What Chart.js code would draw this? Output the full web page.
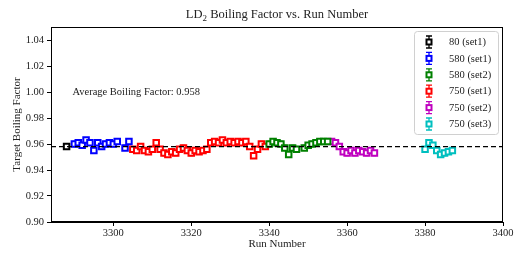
<!DOCTYPE html>
<html>
<head>
<meta charset="utf-8">
<script src="https://cdn.jsdelivr.net/npm/chart.js@4.4.1/dist/chart.umd.min.js"></script>
<style>
  html, body { margin: 0; padding: 0; background: #fff; }
  #wrap { width: 528px; height: 264px; }
</style>
</head>
<body>
<div id="wrap"><canvas id="bf"></canvas></div>
<script>
// Datos
const runs80a = [3288];
const bf80a = [0.958];

const runs580a = [3290, 3291, 3292, 3293, 3294, 3295, 3296, 3297, 3298, 3299, 3300, 3301, 3303, 3304];
const bf580a = [0.960, 0.961, 0.959, 0.963, 0.961, 0.955, 0.961, 0.958, 0.960, 0.961, 0.960, 0.962, 0.957, 0.962];

const runs580b = [3340, 3341, 3342, 3343, 3344, 3345, 3346, 3347, 3349, 3350, 3351, 3352, 3353, 3354, 3355];
const bf580b = [0.960, 0.962, 0.961, 0.960, 0.957, 0.952, 0.957, 0.956, 0.957, 0.959, 0.960, 0.961, 0.962, 0.962, 0.962];

const runs750a = [3305, 3306, 3307, 3308, 3309, 3310, 3311, 3312, 3313, 3314, 3315, 3316, 3317, 3318, 3319,
  3320, 3321, 3322, 3323, 3324, 3325, 3326, 3327, 3328, 3329, 3330, 3331, 3332, 3333, 3334,
  3335, 3336, 3337, 3338, 3339];
const bf750a = [0.956, 0.955, 0.958, 0.955, 0.954, 0.956, 0.961, 0.956, 0.953, 0.952, 0.954, 0.953, 0.956, 0.957, 0.955,
  0.953, 0.955, 0.954, 0.955, 0.956, 0.961, 0.962, 0.961, 0.963, 0.961, 0.962, 0.961, 0.962, 0.961, 0.962,
  0.958, 0.951, 0.956, 0.960, 0.958];

const runs750b = [3356, 3357, 3358, 3359, 3360, 3361, 3362, 3363, 3364, 3365, 3366, 3367];
const bf750b = [0.962, 0.961, 0.958, 0.954, 0.953, 0.955, 0.953, 0.955, 0.954, 0.953, 0.955, 0.953];

const runs750c = [3380, 3381, 3382, 3383, 3384, 3385, 3386, 3387];
const bf750c = [0.956, 0.961, 0.959, 0.955, 0.952, 0.953, 0.954, 0.955];

const bfError = 0.002;
const avgFactor = 0.958;

const seriesLabels = ['80 (set1)', '580 (set1)', '580 (set2)', '750 (set1)', '750 (set2)', '750 (set3)'];
const seriesColors = ['#000000', '#0000ff', '#008000', '#ff0000', '#bf00bf', '#00bfbf'];

const xTicks = [3300, 3320, 3340, 3360, 3380, 3400];
const yTicks = [0.90, 0.92, 0.94, 0.96, 0.98, 1.00, 1.02, 1.04];

const serif = '"Liberation Serif", "DejaVu Serif", serif';

const toPoints = (runs, vals) => runs.map((r, i) => ({ x: r, y: vals[i] }));
const seriesData = [
  toPoints(runs80a, bf80a),
  toPoints(runs580a, bf580a),
  toPoints(runs580b, bf580b),
  toPoints(runs750a, bf750a),
  toPoints(runs750b, bf750b),
  toPoints(runs750c, bf750c)
];

// Barras de error, línea media, textos y leyenda
const overlay = {
  id: 'overlay',
  beforeDatasetsDraw(chart) {
    const { ctx, scales: { x, y } } = chart;
    ctx.save();
    ctx.lineWidth = 1.2;
    chart.data.datasets.forEach(ds => {
      ctx.strokeStyle = ds.borderColor;
      ds.data.forEach(p => {
        const px = x.getPixelForValue(p.x);
        const y1 = y.getPixelForValue(p.y + bfError);
        const y2 = y.getPixelForValue(p.y - bfError);
        ctx.beginPath();
        ctx.moveTo(px, y1); ctx.lineTo(px, y2);
        ctx.moveTo(px - 2, y1); ctx.lineTo(px + 2, y1);
        ctx.moveTo(px - 2, y2); ctx.lineTo(px + 2, y2);
        ctx.stroke();
      });
    });
    ctx.restore();
  },
  afterDatasetsDraw(chart) {
    const { ctx, chartArea: a, scales: { x, y } } = chart;
    ctx.save();

    // línea del promedio
    const ya = y.getPixelForValue(avgFactor);
    ctx.strokeStyle = '#000';
    ctx.lineWidth = 1.3;
    ctx.setLineDash([5, 3]);
    ctx.beginPath();
    ctx.moveTo(a.left, ya);
    ctx.lineTo(a.right, ya);
    ctx.stroke();
    ctx.setLineDash([]);

    // marco completo
    ctx.lineWidth = 1;
    ctx.strokeStyle = '#000';
    ctx.strokeRect(a.left + 0.5, a.top + 0.5, a.right - a.left - 1, a.bottom - a.top - 1);

    // anotación
    ctx.fillStyle = '#222';
    ctx.font = '10.5px ' + serif;
    ctx.textAlign = 'left';
    ctx.textBaseline = 'middle';
    ctx.fillText('Average Boiling Factor: ' + avgFactor.toFixed(3), x.getPixelForValue(3289.5), y.getPixelForValue(1.0));

    // título con subíndice
    ctx.textBaseline = 'alphabetic';
    const t1 = 'LD', t2 = '2', t3 = ' Boiling Factor vs. Run Number';
    ctx.font = '12.5px ' + serif;
    const w1 = ctx.measureText(t1).width, w3 = ctx.measureText(t3).width;
    ctx.font = '9px ' + serif;
    const w2 = ctx.measureText(t2).width;
    let tx = (a.left + a.right) / 2 - (w1 + w2 + w3) / 2;
    const ty = 18;
    ctx.font = '12.5px ' + serif;
    ctx.fillText(t1, tx, ty); tx += w1;
    ctx.font = '9px ' + serif;
    ctx.fillText(t2, tx, ty + 2.5); tx += w2;
    ctx.font = '12.5px ' + serif;
    ctx.fillText(t3, tx, ty);

    // títulos de ejes
    ctx.font = '11px ' + serif;
    ctx.textAlign = 'center';
    ctx.textBaseline = 'middle';
    ctx.fillText('Run Number', (a.left + a.right) / 2, 244);
    ctx.save();
    ctx.translate(17, (a.top + a.bottom) / 2);
    ctx.rotate(-Math.PI / 2);
    ctx.fillText('Target Boiling Factor', 0, 0);
    ctx.restore();

    // leyenda
    const bx = a.right - 89, by = a.top + 4, bw = 84, bh = 103;
    ctx.fillStyle = 'rgba(255,255,255,0.85)';
    ctx.strokeStyle = '#d0d0d0';
    ctx.lineWidth = 1;
    ctx.beginPath();
    ctx.roundRect(bx + 0.5, by + 0.5, bw, bh, 3);
    ctx.fill();
    ctx.stroke();
    ctx.textAlign = 'left';
    ctx.font = '10.5px ' + serif;
    seriesLabels.forEach((lab, i) => {
      const cy = by + 11 + i * 16.4;
      const gx = bx + 15;
      ctx.strokeStyle = seriesColors[i];
      ctx.lineWidth = 1.3;
      ctx.beginPath();
      ctx.moveTo(gx, cy - 6); ctx.lineTo(gx, cy + 6);
      ctx.moveTo(gx - 3, cy - 6); ctx.lineTo(gx + 3, cy - 6);
      ctx.moveTo(gx - 3, cy + 6); ctx.lineTo(gx + 3, cy + 6);
      ctx.stroke();
      ctx.fillStyle = '#fff';
      ctx.lineWidth = 2;
      ctx.fillRect(gx - 2.5, cy - 2.5, 5, 5);
      ctx.strokeRect(gx - 2.5, cy - 2.5, 5, 5);
      ctx.fillStyle = '#222';
      ctx.fillText(lab, bx + 35, cy + 0.5);
    });

    ctx.restore();
  }
};

new Chart(document.getElementById('bf'), {
  type: 'scatter',
  data: {
    datasets: seriesData.map((pts, i) => ({
      label: seriesLabels[i],
      data: pts,
      borderColor: seriesColors[i],
      backgroundColor: '#ffffff',
      pointStyle: 'rect',
      pointRadius: 3.9,
      pointBorderWidth: 2,
      showLine: false
    }))
  },
  options: {
    responsive: true,
    maintainAspectRatio: false,
    animation: false,
    layout: { padding: { top: 27, right: 25, left: 0, bottom: 0 } },
    plugins: {
      legend: { display: false },
      tooltip: { enabled: false }
    },
    scales: {
      x: {
        type: 'linear',
        min: 3284,
        max: 3400,
        afterBuildTicks: (scale) => { scale.ticks = xTicks.map(v => ({ value: v })); },
        afterFit: (scale) => { scale.height = 42; },
        grid: { drawOnChartArea: false, drawTicks: true, tickLength: 4, color: '#000' },
        border: { display: true, color: '#000' },
        ticks: {
          color: '#222',
          font: { family: serif, size: 10.5 },
          padding: 1,
          maxRotation: 0,
          callback: (v) => String(v)
        }
      },
      y: {
        min: 0.90,
        max: 1.05,
        afterBuildTicks: (scale) => { scale.ticks = yTicks.map(v => ({ value: v })); },
        afterFit: (scale) => { scale.width = 51; },
        grid: { drawOnChartArea: false, drawTicks: true, tickLength: 4, color: '#000' },
        border: { display: true, color: '#000' },
        ticks: {
          color: '#222',
          font: { family: serif, size: 10.5 },
          padding: 3,
          callback: (v) => v.toFixed(2)
        }
      }
    }
  },
  plugins: [overlay]
});
</script>
</body>
</html>
